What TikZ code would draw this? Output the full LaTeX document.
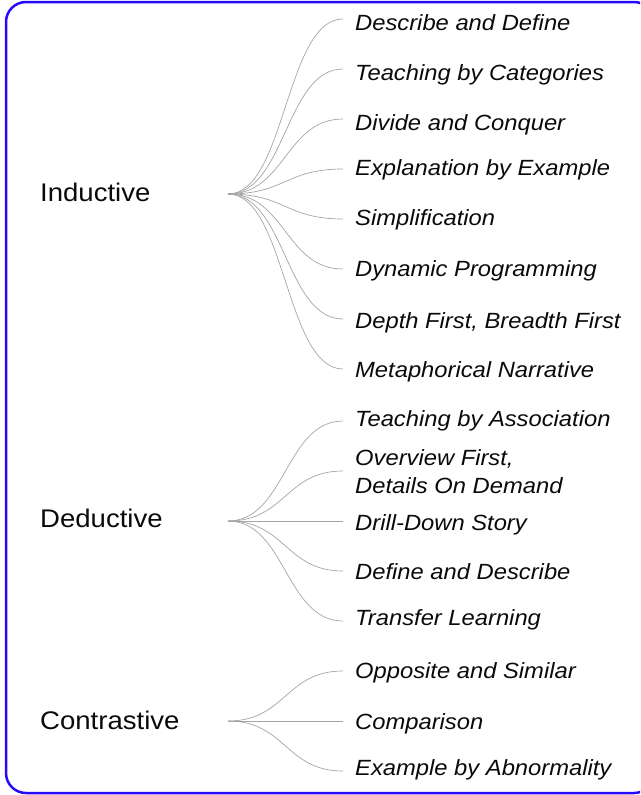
\documentclass[tikz,border=0pt]{standalone}
\usepackage{fontspec}
\setmainfont{Liberation Sans}[FakeStretch=1.08]
\definecolor{frameblue}{RGB}{40,10,250}
\definecolor{linkgray}{RGB}{165,165,165}
\definecolor{ink}{RGB}{10,10,10}
\begin{document}
\begin{tikzpicture}[x=1pt,y=-1pt,
  root/.style={anchor=base west, inner sep=0pt, font=\fontsize{25.5}{30}\selectfont, text=ink},
  leaf/.style={anchor=base west, inner sep=0pt, font=\fontsize{22}{28}\selectfont\itshape, text=ink, align=left},
  link/.style={draw=linkgray, line width=0.7pt}]
\useasboundingbox (0,0) rectangle (640,795);
\begin{scope}
  \clip (0,0) rectangle (640,795);
  \draw[frameblue, line width=2.5pt, rounded corners=20pt] (6,2) rectangle (654,793);
\end{scope}

% Inductive branch
\node[root] (ind) at (40,201) {Inductive};
\coordinate (ih) at (228,194);
\node[leaf] (i1) at (355,30)  {Describe and Define};
\node[leaf] (i2) at (355,80)  {Teaching by Categories};
\node[leaf] (i3) at (355,130) {Divide and Conquer};
\node[leaf] (i4) at (355,175) {Explanation by Example};
\node[leaf] (i5) at (355,225) {Simplification};
\node[leaf] (i6) at (355,276) {Dynamic Programming};
\node[leaf] (i7) at (355,328) {Depth First, Breadth First};
\node[leaf] (i8) at (355,377) {Metaphorical Narrative};
\coordinate (ie1) at (343,19);
\coordinate (ie2) at (343,69);
\coordinate (ie3) at (343,119);
\coordinate (ie4) at (343,169);
\coordinate (ie5) at (343,219);
\coordinate (ie6) at (343,269);
\coordinate (ie7) at (343,319);
\coordinate (ie8) at (343,369);
\foreach \i in {1,...,8}
  \draw[link] (ih) .. controls ([xshift=57.5pt]ih) and ([xshift=-57.5pt]ie\i) .. (ie\i);

% Deductive branch (a multi-line node sits on the baseline of its last line)
\node[root] (ded) at (40,527) {Deductive};
\coordinate (dh) at (228,521);
\node[leaf] (d1) at (355,426) {Teaching by Association};
\node[leaf] (d2) at (355,493) {Overview First,\\Details On Demand};
\node[leaf] (d3) at (355,530) {Drill-Down Story};
\node[leaf] (d4) at (355,579) {Define and Describe};
\node[leaf] (d5) at (355,625) {Transfer Learning};
\coordinate (de1) at (343,421);
\coordinate (de2) at (343,471);
\coordinate (de3) at (343,521);
\coordinate (de4) at (343,571);
\coordinate (de5) at (343,621);
\foreach \i in {1,...,5}
  \draw[link] (dh) .. controls ([xshift=57.5pt]dh) and ([xshift=-57.5pt]de\i) .. (de\i);

% Contrastive branch
\node[root] (con) at (40,729) {Contrastive};
\coordinate (ch) at (228,721);
\node[leaf] (c1) at (355,678) {Opposite and Similar};
\node[leaf] (c2) at (355,729) {Comparison};
\node[leaf] (c3) at (355,775) {Example by Abnormality};
\coordinate (ce1) at (343,671);
\coordinate (ce2) at (343,721);
\coordinate (ce3) at (343,771);
\foreach \i in {1,...,3}
  \draw[link] (ch) .. controls ([xshift=57.5pt]ch) and ([xshift=-57.5pt]ce\i) .. (ce\i);
\end{tikzpicture}
\end{document}
